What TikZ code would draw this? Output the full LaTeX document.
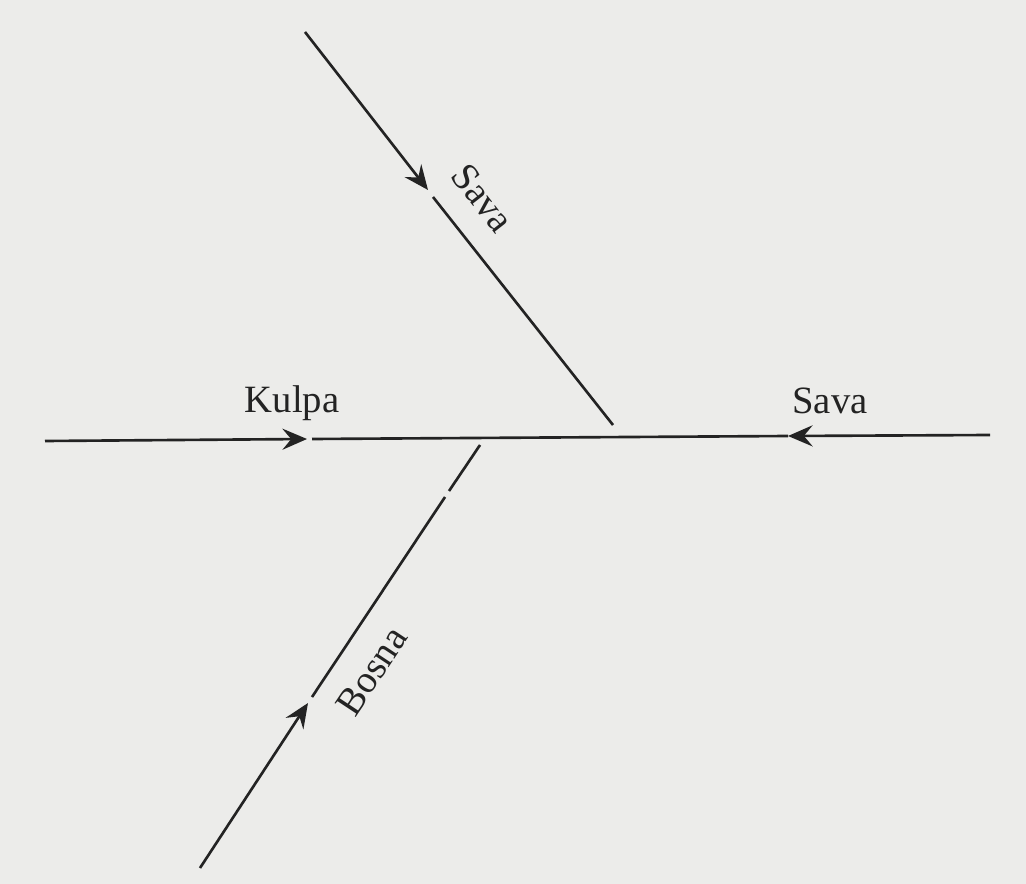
\documentclass[tikz,border=0pt]{standalone}
\usepackage{fontspec}
\setmainfont{Liberation Serif}
\usetikzlibrary{arrows.meta}
\definecolor{paper}{RGB}{236,236,234}
\definecolor{ink}{RGB}{35,35,35}
\tikzset{
  river/.style={draw=ink, line width=1.5pt},
  flow/.style={river, -{Stealth[length=14pt, width=12pt, inset=5pt]}},
  lbl/.style={text=ink, font=\fontsize{22}{24}\selectfont, inner sep=0pt}
}
\begin{document}
\begin{tikzpicture}[x=0.02cm, y=-0.02cm]
\fill[paper] (0,0) rectangle (1026,884);
\useasboundingbox (0,0) rectangle (1026,884);
% upper Sava
\coordinate (sn0) at (305,32);
\coordinate (snA) at (428,190);
\coordinate (snB) at (433,197);
\coordinate (snE) at (613,425);
% horizontal
\coordinate (k0) at (45,441);
\coordinate (kA) at (307,439);
\coordinate (kB) at (312,439);
\coordinate (se0) at (990,435);
\coordinate (seA) at (788,436);
% Bosna
\coordinate (b0) at (200,868);
\coordinate (bA) at (308,703);
\coordinate (bB) at (312,697);
\coordinate (bG1) at (445,497);
\coordinate (bG2) at (449,491);
\coordinate (bE) at (480,445);

\draw[flow] (sn0) -- (snA);
\draw[river] (snB) -- (snE);
\draw[flow] (k0) -- (kA);
\draw[river] (kB) -- (seA);
\draw[flow] (se0) -- (seA);
\draw[flow] (b0) -- (bA);
\draw[river] (bB) -- (bG1);
\draw[river] (bG2) -- (bE);

\node[lbl] (lk) at (292,403) {Kulpa};
\node[lbl] (ls) at (830,401) {Sava};
\node[lbl, rotate=-52] (lsn) at (483,198) {Sava};
\node[lbl, rotate=56.5] (lb) at (372,671) {Bosna};
\end{tikzpicture}
\end{document}
